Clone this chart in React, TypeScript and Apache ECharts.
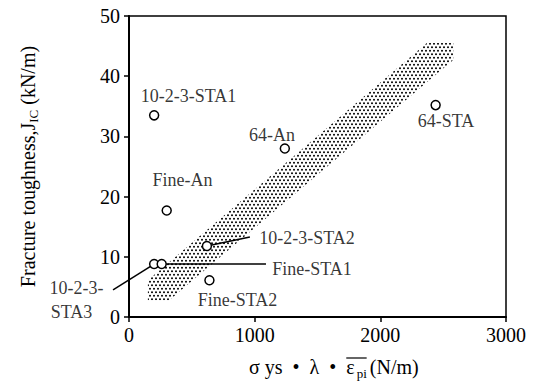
import React, { useEffect, useRef } from 'react';
import * as echarts from 'echarts';

const FONT = '"Liberation Serif", "Times New Roman", serif';

// Measured specimens
const pointNames = ['10-2-3-STA1', 'Fine-An', '10-2-3-STA2', '10-2-3-STA3', 'Fine-STA1', 'Fine-STA2', '64-An', '64-STA'];
const pointX = [200, 300, 620, 200, 260, 640, 1240, 2440];
const pointY = [33.5, 17.7, 11.8, 8.8, 8.8, 6.1, 28.0, 35.2];

// Annotation texts and their anchor (data) positions
const labelTexts = ['10-2-3-STA1', 'Fine-An', '64-An', '64-STA', '10-2-3-STA2', 'Fine-STA1', 'Fine-STA2', '10-2-3-', 'STA3'];
const labelX = [473, 426, 1138, 2522, 1416, 1456, 863, -418, -458];
const labelY = [36.7, 22.8, 30.2, 32.6, 13.1, 8.0, 2.8, 4.8, 0.8];

// Scatter band (dotted region)
const bandX = [150, 150, 2370, 2580, 2580, 320];
const bandY = [2.8, 6.1, 45.5, 45.5, 42.7, 2.8];

// Leader lines: [x1, y1, x2, y2]
const leaderX1 = [620, 260, 200];
const leaderY1 = [11.8, 8.8, 8.8];
const leaderX2 = [962, 1090, -127];
const leaderY2 = [13.3, 8.8, 4.5];

// Axes
const xMin = 0, xMax = 3000, xStep = 1000;
const yMin = 0, yMax = 50, yStep = 10;

const dotSvg =
  "<svg xmlns='http://www.w3.org/2000/svg' width='8' height='7'>" +
  "<circle cx='2' cy='1.8' r='1' fill='black'/>" +
  "<circle cx='6' cy='1.8' r='1' fill='black'/>" +
  "<circle cx='4' cy='5.3' r='1' fill='black'/>" +
  "<circle cx='0' cy='5.3' r='1' fill='black'/>" +
  "<circle cx='8' cy='5.3' r='1' fill='black'/></svg>";
const dotUrl = 'data:image/svg+xml;utf8,' + encodeURIComponent(dotSvg);

function measure(text: string, size: number): number {
  const c = document.createElement('canvas').getContext('2d');
  if (!c) return text.length * size * 0.5;
  c.font = size + 'px ' + FONT;
  return c.measureText(text).width;
}

export default function App() {
  const ref = useRef<HTMLDivElement>(null);
  useEffect(() => {
    if (!ref.current) return;
    const chart = echarts.init(ref.current, null, { renderer: 'svg' });

    // x-axis title layout
    const tx0 = 249;
    const ty = 367;
    const fs = 20;
    const part1 = 'σ ys  •  λ  •  ';
    const w1 = measure(part1, fs);
    const wEps = measure('ε', fs);
    const wSub = measure('pi', 13);
    const xEps = tx0 + w1;
    const xSub = xEps + wEps + 2;
    const xUnit = xSub + wSub + 3;

    chart.setOption({
      animation: false,
      grid: { left: 129, right: 30, top: 16, bottom: 64, show: true, borderColor: '#000', borderWidth: 1.5, containLabel: false, outerBoundsMode: 'none' },
      xAxis: {
        type: 'value', min: xMin, max: xMax, interval: xStep,
        splitLine: { show: false },
        axisLine: { show: true, onZero: false, lineStyle: { color: '#000', width: 2 } },
        axisTick: { show: true, inside: false, length: 5, lineStyle: { color: '#000', width: 1.5 } },
        axisLabel: { color: '#000', fontFamily: FONT, fontSize: 20, margin: 8, formatter: (v: number) => String(v) },
      },
      yAxis: {
        type: 'value', min: yMin, max: yMax, interval: yStep,
        splitLine: { show: false },
        axisLine: { show: true, onZero: false, lineStyle: { color: '#000', width: 2 } },
        axisTick: { show: true, inside: false, length: 5, lineStyle: { color: '#000', width: 1.5 } },
        axisLabel: { color: '#000', fontFamily: FONT, fontSize: 20, margin: 9 },
        name: 'Fracture toughness,J{sub|IC} (kN/m)',
        nameLocation: 'middle',
        nameGap: 89,
        nameTextStyle: {
          color: '#000', fontFamily: FONT, fontSize: 20,
          rich: { sub: { color: '#000', fontFamily: FONT, fontSize: 13, padding: [12, 0, 0, 0] } },
        },
      },
      series: [
        {
          type: 'custom',
          z: 1,
          silent: true,
          data: [[bandX[0], bandY[0]]],
          renderItem: (params: any, api: any) => {
            const pts = bandX.map((x, i) => api.coord([x, bandY[i]]));
            return {
              type: 'polygon',
              shape: { points: pts },
              style: {
                fill: { image: dotUrl, repeat: 'repeat', imageWidth: 8, imageHeight: 7 },
                stroke: 'none',
              },
            };
          },
        },
        {
          type: 'custom',
          z: 3,
          silent: true,
          clip: false,
          data: leaderX1.map((x, i) => [x, leaderY1[i], leaderX2[i], leaderY2[i]]),
          renderItem: (params: any, api: any) => {
            const p1 = api.coord([api.value(0), api.value(1)]);
            const p2 = api.coord([api.value(2), api.value(3)]);
            return {
              type: 'line',
              shape: { x1: p1[0], y1: p1[1], x2: p2[0], y2: p2[1] },
              style: { stroke: '#000', lineWidth: 1.5 },
            };
          },
        },
        {
          type: 'scatter',
          z: 5,
          symbol: 'circle',
          symbolSize: 9,
          itemStyle: { color: '#fff', borderColor: '#000', borderWidth: 1.5, opacity: 1 },
          data: pointX.map((x, i) => ({ name: pointNames[i], value: [x, pointY[i]] })),
        },
        {
          type: 'scatter',
          z: 6,
          clip: false,
          symbolSize: 1,
          silent: true,
          itemStyle: { color: 'rgba(0,0,0,0)' },
          label: {
            show: true, position: 'inside', formatter: (p: any) => p.name,
            color: '#000', fontFamily: FONT, fontSize: 18,
          },
          data: labelX.map((x, i) => ({ name: labelTexts[i], value: [x, labelY[i]] })),
        },
      ],
      graphic: [
        { type: 'text', x: tx0, y: ty, style: { text: part1, font: fs + 'px ' + FONT, fill: '#000', verticalAlign: 'middle' } },
        { type: 'text', x: xEps, y: ty, style: { text: 'ε', font: fs + 'px ' + FONT, fill: '#000', verticalAlign: 'middle' } },
        { type: 'line', shape: { x1: xEps, y1: ty - 9, x2: xEps + wEps + 12, y2: ty - 9 }, style: { stroke: '#000', lineWidth: 1.2 } },
        { type: 'text', x: xSub, y: ty + 6, style: { text: 'pi', font: '13px ' + FONT, fill: '#000', verticalAlign: 'middle' } },
        { type: 'text', x: xUnit, y: ty, style: { text: '(N/m)', font: fs + 'px ' + FONT, fill: '#000', verticalAlign: 'middle' } },
      ],
    });
    return () => chart.dispose();
  }, []);
  return <div ref={ref} style={{ position: 'fixed', left: 0, top: 0, width: 536, height: 381, background: '#fff' }} />;
}
